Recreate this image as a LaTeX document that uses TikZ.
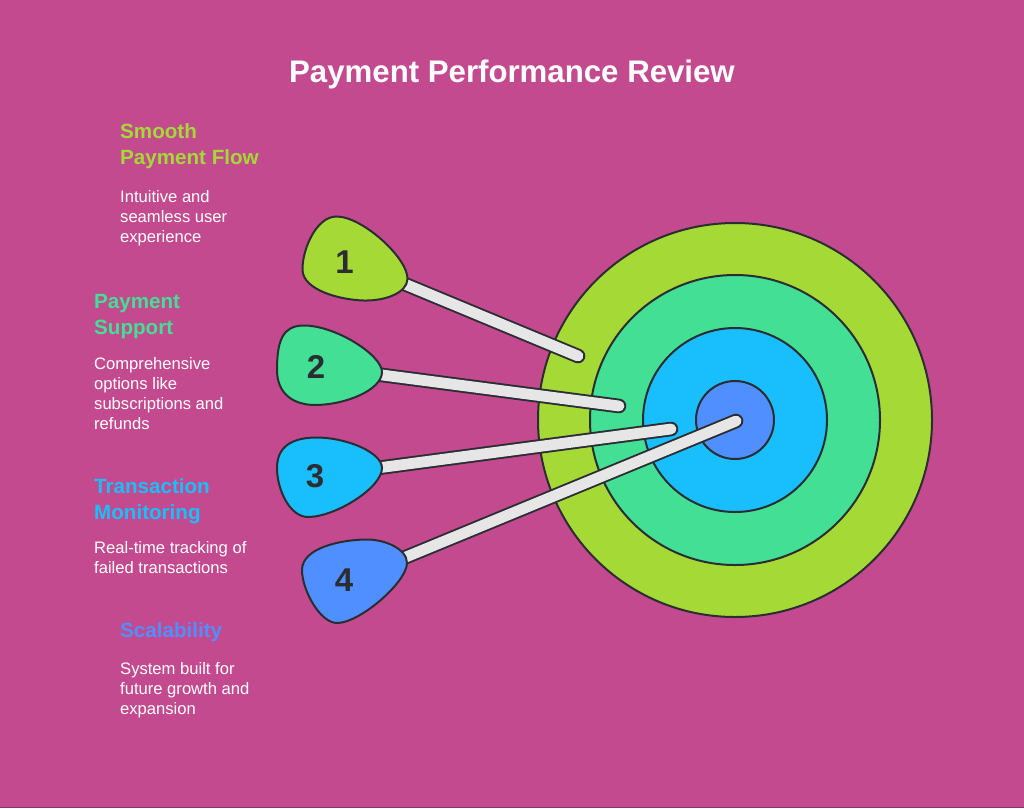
\documentclass[tikz,border=0pt]{standalone}
\usepackage{fontspec}
\setmainfont{Liberation Sans}
\definecolor{bgc}{HTML}{C44A8F}
\definecolor{cgreen}{HTML}{A5D936}
\definecolor{cteal}{HTML}{42DF95}
\definecolor{ccyan}{HTML}{19BFFD}
\definecolor{cblue}{HTML}{508FFF}
\definecolor{cstick}{HTML}{E6E6E6}
\definecolor{cink}{HTML}{2B2D33}
\tikzset{
  ring/.style={draw=cink,line width=2pt},
  blob/.style={draw=cink,line width=2pt},
  stickout/.style={draw=cink,line width=14.6pt,line cap=round},
  stickin/.style={draw=cstick,line width=10.8pt,line cap=round},
  num/.style={text=cink,font=\fontsize{33}{33}\selectfont\bfseries},
  head/.style={anchor=north west,align=left,inner sep=0pt,font=\fontsize{20.6}{26}\selectfont\bfseries},
  body/.style={anchor=north west,align=left,inner sep=0pt,text=white,font=\fontsize{16.6}{20}\selectfont},
  ttl/.style={text=white,font=\fontsize{31.2}{33}\selectfont\bfseries},
}
\begin{document}
\begin{tikzpicture}[x=1pt,y=-1pt]
\useasboundingbox (0,0) rectangle (1024,808);
\fill[bgc] (0,0) rectangle (1024,808);
\fill[bgc!70!black] (0,807) rectangle (1024,808);
\node[ttl] (title) at (512,74) {Payment Performance Review};
% target
\coordinate (ctr) at (735,420);
\path[ring,fill=cgreen] (ctr) circle[radius=197];
\path[ring,fill=cteal] (ctr) circle[radius=145];
\path[ring,fill=ccyan] (ctr) circle[radius=92];
\path[ring,fill=cblue] (ctr) circle[radius=39];
% stick ends
\coordinate (s1) at (395,280); \coordinate (e1) at (578,356);
\coordinate (s2) at (370,373.4); \coordinate (e2) at (619,406);
\coordinate (s3) at (370,469); \coordinate (e3) at (671,429);
\coordinate (s4) at (395,561.5); \coordinate (e4) at (736,421);
\foreach \i in {1,2,3,4}{
  \draw[stickout] (s\i) -- (e\i);
  \draw[stickin] (s\i) -- (e\i);
}
% blobs
\path[blob,fill=cgreen] (336,216.5) .. controls (362,216) and (408,258) .. (407.5,279)
  .. controls (407,293) and (385,301) .. (364,300.5)
  .. controls (340,300) and (303,290) .. (302.5,270)
  .. controls (302,250) and (316,217) .. (336,216.5) -- cycle;
\path[blob,fill=cteal] (303,325.5) .. controls (335,325) and (382,355) .. (382,372)
  .. controls (382,390) and (345,405) .. (315,405)
  .. controls (295,405) and (277,395) .. (277,370)
  .. controls (277,340) and (283,326) .. (303,325.5) -- cycle;
\path[blob,fill=ccyan] (315,437.5) .. controls (345,437) and (382,452) .. (382,468)
  .. controls (382,488) and (335,517) .. (308,517)
  .. controls (290,517) and (277,490) .. (277,468)
  .. controls (277,448) and (290,438) .. (315,437.5) -- cycle;
\path[blob,fill=cblue] (365,539.5) .. controls (385,539) and (407,549) .. (407,563)
  .. controls (407,582) and (360,623) .. (337,623)
  .. controls (320,623) and (302,590) .. (302,570)
  .. controls (302,548) and (340,540) .. (365,539.5) -- cycle;
\node[num] (n1) at (344.5,262.5) {1};
\node[num] (n2) at (316,367) {2};
\node[num] (n3) at (315,476.5) {3};
\node[num] (n4) at (344,580) {4};
% texts
\node[head,text=cgreen] (h1) at (120,123) {Smooth\\Payment Flow};
\node[body] (b1) at (120,190.5) {Intuitive and\\seamless user\\experience};
\node[head,text=cteal] (h2) at (94,294) {Payment\\Support};
\node[body] (b2) at (94,357.5) {Comprehensive\\options like\\subscriptions and\\refunds};
\node[head,text=ccyan] (h3) at (94,478) {Transaction\\Monitoring};
\node[body] (b3) at (94,541.5) {Real-time tracking of\\failed transactions};
\node[head,text=cblue] (h4) at (120,622) {Scalability};
\node[body] (b4) at (120,662.5) {System built for\\future growth and\\expansion};
\end{tikzpicture}
\end{document}
